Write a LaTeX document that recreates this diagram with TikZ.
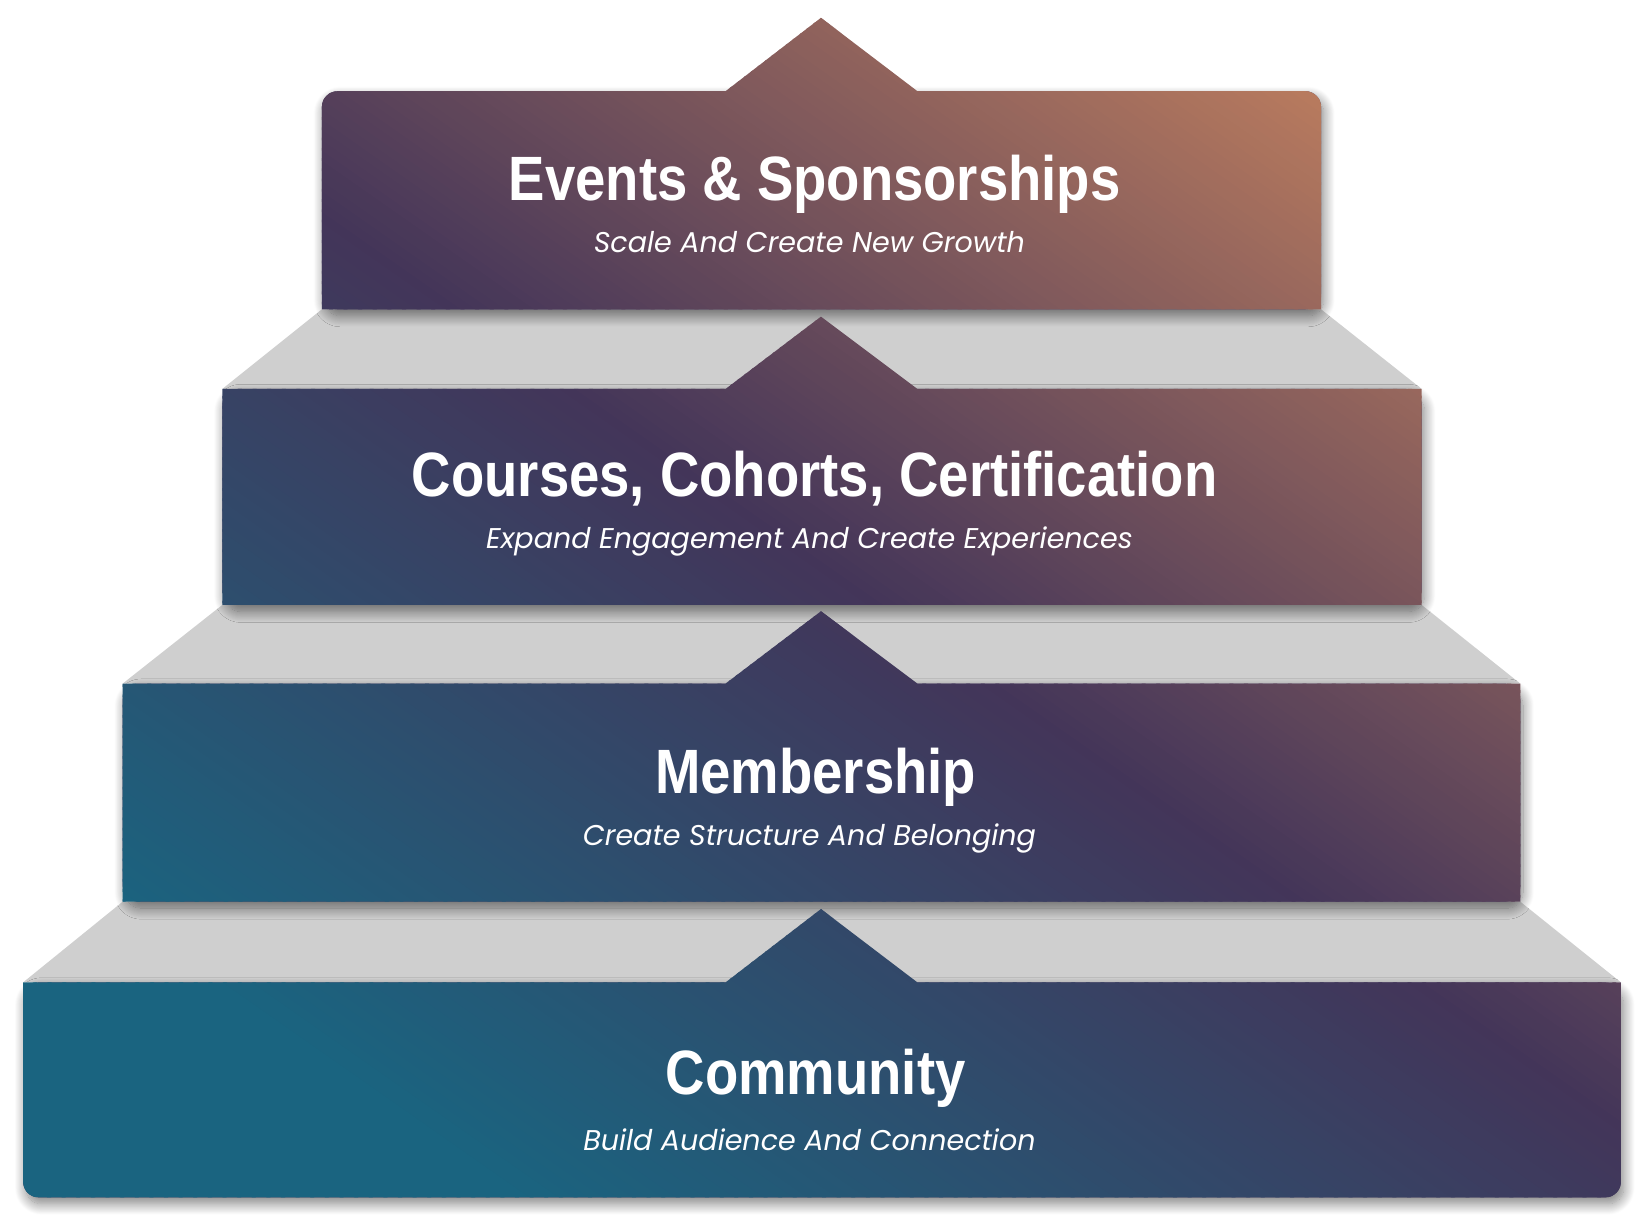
\documentclass[tikz,border=0pt]{standalone}
\usepackage{fontspec}
\usetikzlibrary{shadows.blur}
\newfontfamily\titlefont{Liberation Sans}[FakeStretch=0.87]
\newfontfamily\taglinefont{Poppins}
\definecolor{stepgrey}{HTML}{CFCFCF}
\definecolor{deepteal}{HTML}{1A6480}
\definecolor{plum}{HTML}{433559}
\definecolor{ember}{HTML}{B97B5E}
\tikzset{
  tread/.style  ={fill=stepgrey},
  lift/.style   ={fill=plum, rounded corners=3mm,
                  blur shadow={shadow xshift=1.5pt, shadow yshift=-3.5pt,
                  shadow blur radius=6pt, shadow blur steps=16, shadow opacity=50}},
  title/.style  ={text=white, anchor=base, inner sep=0pt,
                  font=\titlefont\bfseries\fontsize{34}{40}\selectfont},
  tagline/.style={text=white, anchor=base, inner sep=0pt,
                  font=\taglinefont\itshape\fontsize{15.5}{18}\selectfont},
}
% tier outlines, in layout pixels
\newcommand\tierEvents{(307,874) -- (307,1067) arc[start angle=180, end angle=90, radius=15]
  -- (692,1082) -- (783,1152) -- (875,1082) -- (1245,1082)
  arc[start angle=90, end angle=0, radius=15] -- (1260,874) -- cycle}
\newcommand\tierCourses{(212,592) -- (212,798) -- (692,798) -- (783,867) -- (875,798)
  -- (1356,798) -- (1356,592) -- cycle}
\newcommand\tierMember{(117,309) -- (117,517) -- (692,517) -- (783,586) -- (875,517)
  -- (1450,517) -- (1450,309) -- cycle}
\newcommand\tierCommunity{(22,42) -- (22,232) -- (692,232) -- (783,302) -- (875,232)
  -- (1546,232) -- (1546,42) arc[start angle=0, end angle=-90, radius=15]
  -- (37,27) arc[start angle=270, end angle=180, radius=15] -- cycle}

\begin{document}
\begin{tikzpicture}[x=0.2mm, y=0.2mm]
  \useasboundingbox (0,0) rectangle (1568,1169);

  % grey treads between the tiers
  \fill[tread] (307,874) -- (1260,874) -- (1356,798) -- (212,798) -- cycle;
  \fill[tread] (212,592) -- (1356,592) -- (1450,517) -- (117,517) -- cycle;
  \fill[tread] (117,309) -- (1450,309) -- (1546,232) -- (22,232) -- cycle;

  % shadows of the tier blocks
  \fill[lift] (307,874) rectangle (1260,1082);
  \fill[lift] (212,592) rectangle (1356,798);
  \fill[lift] (117,309) rectangle (1450,517);
  \fill[lift] (22,27)   rectangle (1546,232);

  % one diagonal gradient over all four tiers
  \begin{scope}
    \clip \tierEvents \tierCourses \tierMember \tierCommunity;
    \begin{scope}[rotate=55]
      \foreach \u in {0,8,...,1640}{
        \ifnum\u<959
          \pgfmathsetmacro\t{max(0,min(100,(\u-300)/6.59))}
          \colorlet{band}{plum!\t!deepteal}
        \else
          \pgfmathsetmacro\t{min(100,(\u-959)/6.46)}
          \colorlet{band}{ember!\t!plum}
        \fi
        \fill[band] (\u,-1500) rectangle (\u+10,900);
      }
    \end{scope}
  \end{scope}

  \node[title]   (events)       at (777,978) {Events \& Sponsorships};
  \node[tagline] (eventsTag)    at (772,928) {Scale And Create New Growth};
  \node[title]   (courses)      at (777,695) {Courses, Cohorts, Certification};
  \node[tagline] (coursesTag)   at (772,646) {Expand Engagement And Create Experiences};
  \node[title]   (member)       at (778,412) {Membership};
  \node[tagline] (memberTag)    at (772,363) {Create Structure And Belonging};
  \node[title]   (community)    at (778,125) {Community};
  \node[tagline] (communityTag) at (772,72)  {Build Audience And Connection};
\end{tikzpicture}
\end{document}
